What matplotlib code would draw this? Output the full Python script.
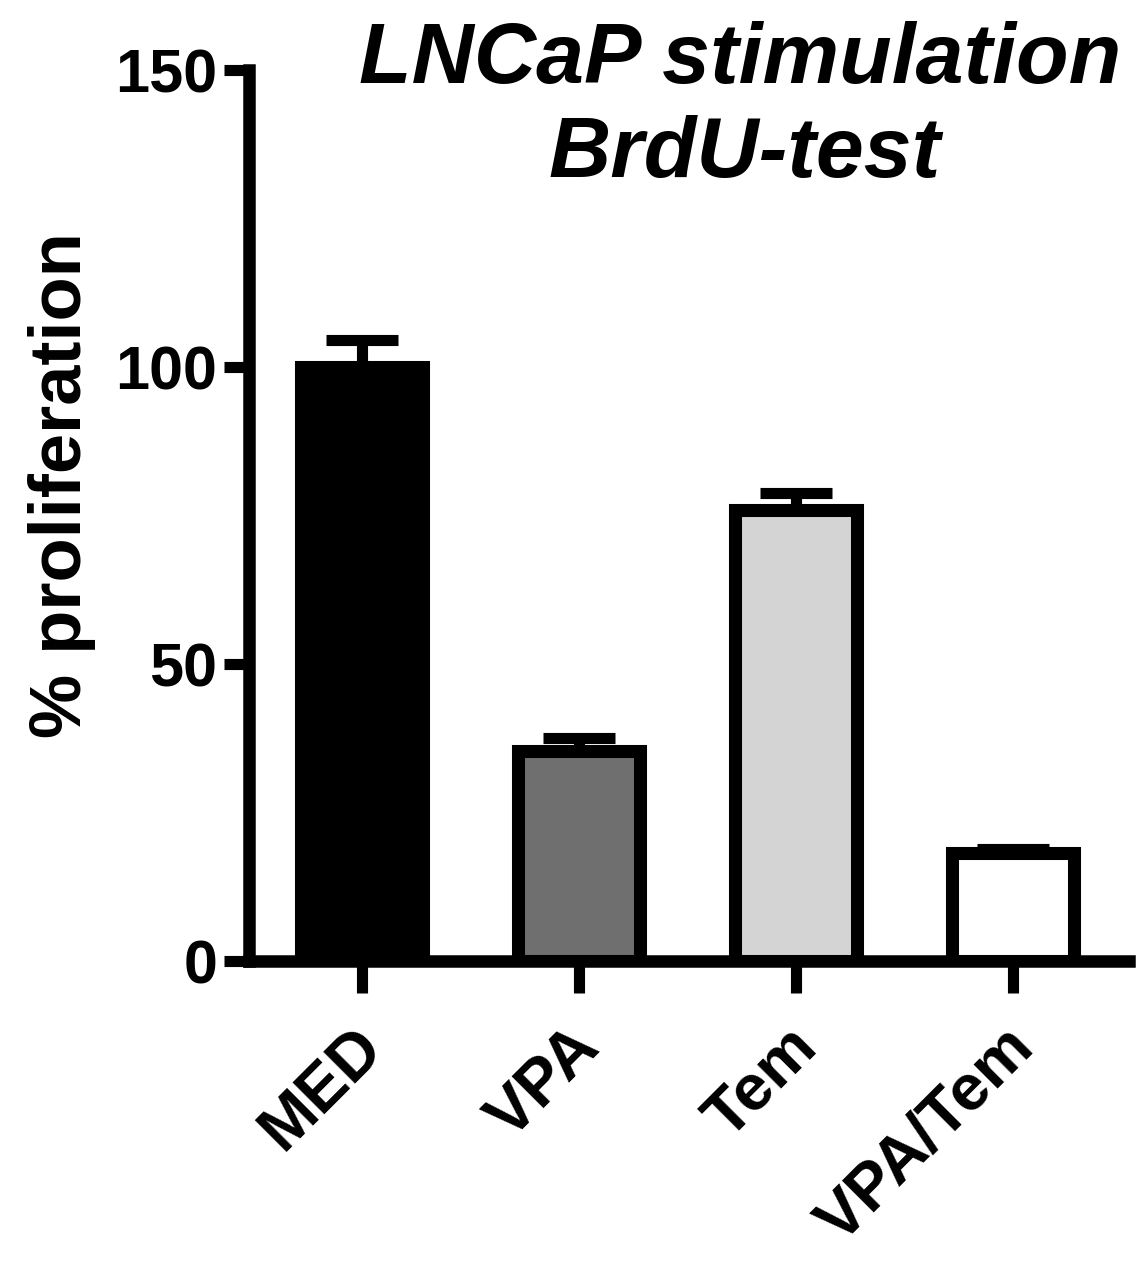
import numpy as np
import matplotlib.pyplot as plt
from matplotlib.transforms import ScaledTranslation

groups = ["MED", "VPA", "Tem", "VPA/Tem"]
prolif = [100.0, 35.3, 76.0, 18.1]
sem = [4.6, 2.2, 2.8, 0.8]
fills = ["#000000", "#6f6f6f", "#d4d4d4", "#ffffff"]
yticks = [0, 50, 100, 150]

plt.rcParams['font.family'] = ['Liberation Sans', 'DejaVu Sans']
plt.rcParams['font.weight'] = 'bold'

W, H = 1146, 1271
fig = plt.figure(figsize=(W / 100, H / 100), dpi=100)
ax = fig.add_axes([0.2173, 0.2439, 0.768, 0.701])

x = np.arange(len(groups))
ax.bar(x, prolif, width=0.56, color=fills, edgecolor='black', linewidth=9.4, zorder=2)
ax.errorbar(x, prolif, yerr=[np.zeros(len(sem)), sem], fmt='none', ecolor='black',
            elinewidth=8, capsize=26, capthick=8, zorder=1)

ax.set_xlim(-0.52, 3.534)
ax.set_ylim(0, 150)

for s in ['top', 'right']:
    ax.spines[s].set_visible(False)
for s in ['left', 'bottom']:
    ax.spines[s].set_linewidth(9)

ax.set_yticks(yticks)
ax.set_xticks(x)
ax.set_xticklabels(groups, rotation=45, ha='right', rotation_mode='anchor')
ax.tick_params(axis='y', length=18, width=8, labelsize=44, pad=5)
ax.tick_params(axis='x', length=23, width=8, labelsize=47, pad=18)

# nudge rotated category labels left a bit
shift = ScaledTranslation(-10 / 100, 2 / 100, fig.dpi_scale_trans)
for lab in ax.get_xticklabels():
    lab.set_transform(lab.get_transform() + shift)

fig.text(62 / W, 1 - 485 / H, '% proliferation', rotation=90, ha='center', va='center', fontsize=52)

fig.text(740 / W, 1 - 83 / H, 'LNCaP stimulation', style='italic', fontsize=62,
         ha='center', va='baseline')
fig.text(745 / W, 1 - 177 / H, 'BrdU-test', style='italic', fontsize=62,
         ha='center', va='baseline')

fig.savefig('out.png', dpi=100)
